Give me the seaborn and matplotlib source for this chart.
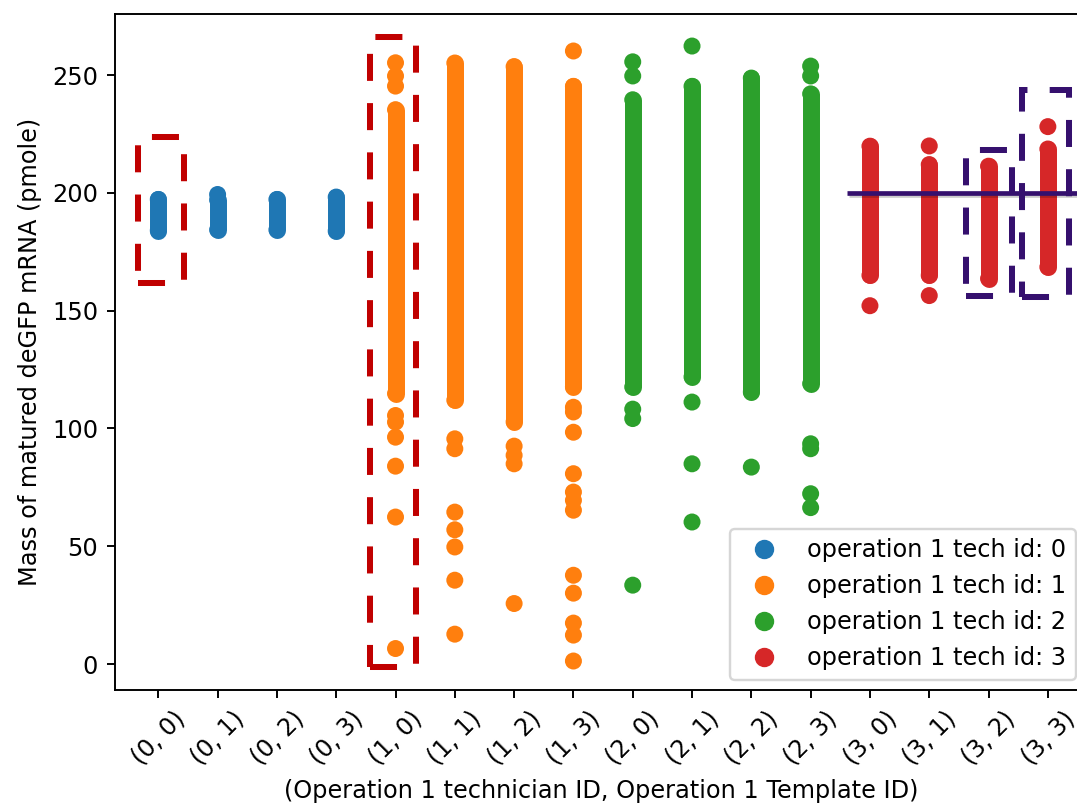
import numpy as np
import pandas as pd
import matplotlib
matplotlib.use("Agg")
import matplotlib.pyplot as plt
import matplotlib.patheffects as pe
from matplotlib.patches import Rectangle
from matplotlib.lines import Line2D
import seaborn as sns

# ---------------- data ----------------
categories = ["(0, 0)", "(0, 1)", "(0, 2)", "(0, 3)",
              "(1, 0)", "(1, 1)", "(1, 2)", "(1, 3)",
              "(2, 0)", "(2, 1)", "(2, 2)", "(2, 3)",
              "(3, 0)", "(3, 1)", "(3, 2)", "(3, 3)"]
tech_ids = [0, 0, 0, 0, 1, 1, 1, 1, 2, 2, 2, 2, 3, 3, 3, 3]
tech_labels = ["operation 1 tech id: 0", "operation 1 tech id: 1",
               "operation 1 tech id: 2", "operation 1 tech id: 3"]

# extent of the dense (overlapping) bulk of points in each column
band_low = [184.0, 184.3, 184.3, 183.8, 114.8, 112.0, 102.8, 117.7,
            117.6, 121.9, 115.5, 119.0, 165.0, 165.0, 163.6, 168.5]
band_high = [197.2, 197.0, 197.2, 198.2, 235.3, 255.1, 253.6, 245.2,
             239.5, 245.2, 248.7, 242.0, 219.8, 212.0, 211.3, 218.6]

# individually visible points outside the dense bulk
outliers = [
    [],
    [199.3],
    [],
    [],
    [255.2, 249.6, 245.3, 105.5, 102.7, 96.3, 84.0, 62.4, 6.6],
    [95.6, 91.4, 64.5, 57.0, 49.7, 35.6, 12.7],
    [92.5, 88.6, 85.0, 25.7],
    [260.2, 109.0, 107.0, 98.4, 80.8, 73.0, 69.5, 65.3, 37.7, 30.1, 17.4, 12.3, 1.3],
    [255.6, 249.6, 108.2, 104.2, 33.5],
    [262.3, 111.2, 85.0, 60.3],
    [83.6],
    [253.8, 249.6, 93.5, 91.4, 72.3, 66.4],
    [152.1],
    [219.9, 156.4],
    [],
    [228.1],
]

reference_level = 200

# annotation boxes (x0, x1, y0, y1) in data units
red_boxes = [(-0.337, 0.433, 161.6, 223.7), (3.565, 4.341, -1.3, 266.3)]
purple_boxes = [(13.612, 14.396, 156.2, 218.0), (14.57, 15.35, 156.0, 243.7)]
ref_line_start = 11.61

# ---------------- figure ----------------
DPI = 173
fig = plt.figure(figsize=(1077 / DPI, 808 / DPI), dpi=DPI)
ax = fig.add_axes([115 / 1077, 118 / 808, 972 / 1077, 676 / 808])

palette = sns.color_palette("tab10", 4)

rows = []
for i, cat in enumerate(categories):
    lab = tech_labels[tech_ids[i]]
    for y in [band_low[i], band_high[i]] + outliers[i]:
        rows.append((cat, y, lab))
df = pd.DataFrame(rows, columns=["category", "mass", "tech"])

msize = 7.07
sns.stripplot(data=df, x="category", y="mass", hue="tech", order=categories,
              hue_order=tech_labels, palette=palette, jitter=False,
              size=msize, linewidth=0, legend=False, ax=ax, zorder=3)

ax.vlines(np.arange(len(categories)), band_low, band_high,
          colors=[palette[t] for t in tech_ids], linewidth=msize,
          capstyle="round", zorder=2)

ax.set_xlim(-0.73, 15.66)
ax.set_ylim(-11.0, 275.9)
ax.set_yticks([0, 50, 100, 150, 200, 250])
for lbl in ax.get_xticklabels():
    lbl.set_rotation(45)

ax.set_xlabel("(Operation 1 technician ID, Operation 1 Template ID)")
ax.set_ylabel("Mass of matured deGFP mRNA (pmole)")

handles = [Line2D([0], [0], marker="o", ls="", color=palette[k],
                  markersize=msize, label=tech_labels[k]) for k in range(4)]
ax.legend(handles=handles, loc="lower right", bbox_to_anchor=(0.9991, 0.1584),
          bbox_transform=fig.transFigure, borderaxespad=0)

# reference line with a soft shadow
purple = "#35106e"
ax.hlines(reference_level, ref_line_start, 16.5, colors=purple, linewidth=1.95,
          zorder=6, path_effects=[pe.SimpleLineShadow(offset=(0.8, -1.0), alpha=0.2),
                                  pe.Normal()])

# dashed highlight boxes
for (x0, x1, y0, y1) in red_boxes:
    ax.add_patch(Rectangle((x0, y0), x1 - x0, y1 - y0, fill=False, ec="#c00000",
                           lw=2.5, ls=(0, (4.5, 3.7)), clip_on=False, zorder=7))
for (x0, x1, y0, y1) in purple_boxes:
    ax.add_patch(Rectangle((x0, y0), x1 - x0, y1 - y0, fill=False, ec=purple,
                           lw=2.5, ls=(0, (4.5, 3.7)), clip_on=False, zorder=7))

fig.savefig("out.png", dpi=DPI)
